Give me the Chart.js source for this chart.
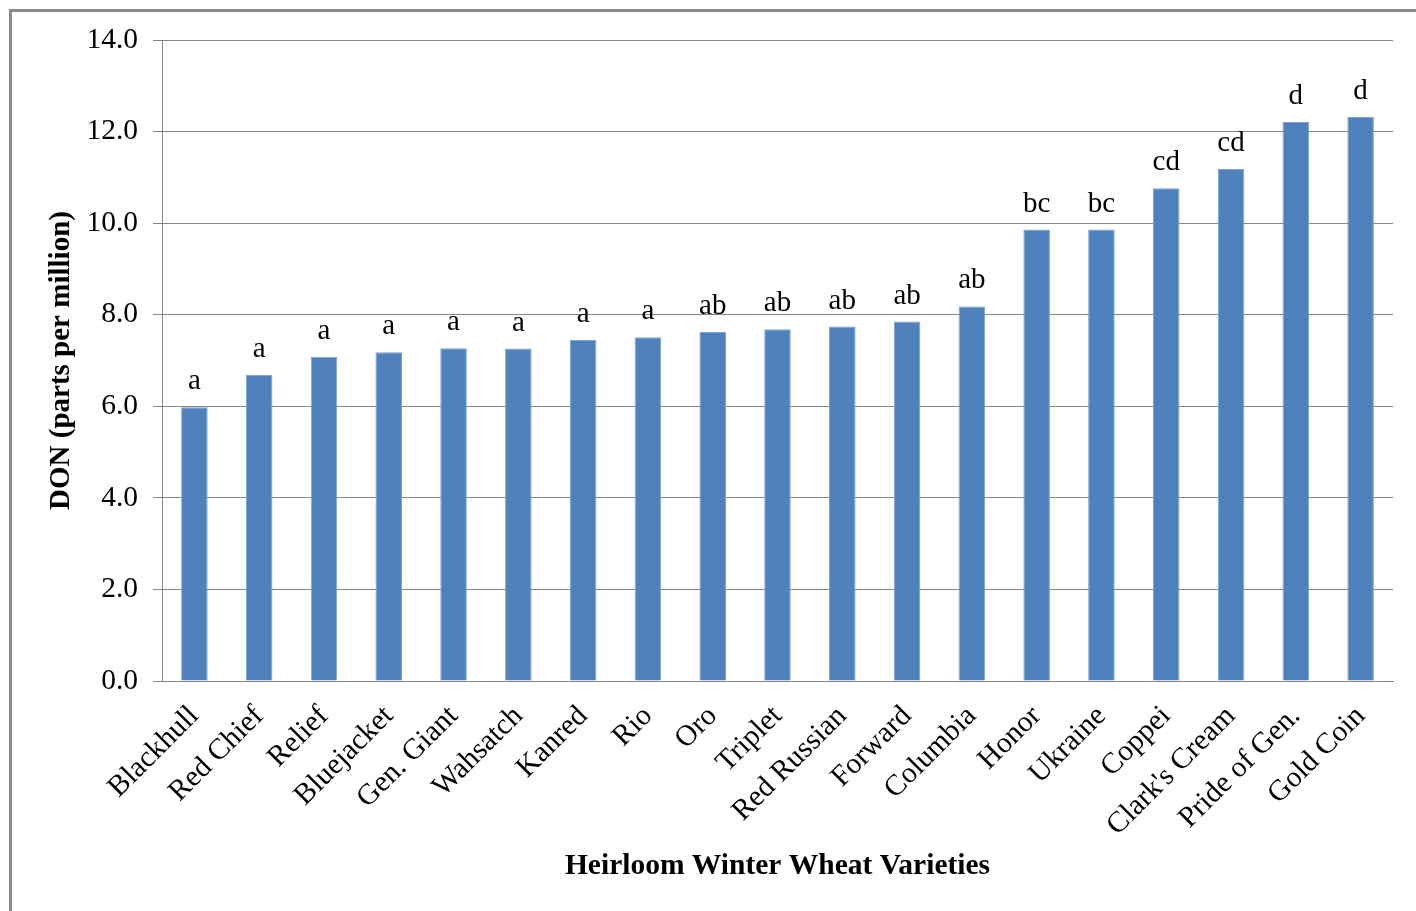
<!DOCTYPE html>
<html>
<head>
<meta charset="utf-8">
<script src="https://cdn.jsdelivr.net/npm/chart.js@4/dist/chart.umd.min.js"></script>
<style>
  html, body { margin: 0; padding: 0; background: #fff; }
  #wrap { position: relative; width: 1416px; height: 911px; overflow: hidden; }
  #frame { position: absolute; left: 9px; top: 9px; width: 1500px; height: 1000px;
           border-top: 3px solid #8a8a8a; border-left: 3px solid #8a8a8a; }
  canvas { position: absolute; left: 0; top: 0; }
</style>
</head>
<body>
<div id="wrap">
  <div id="frame"></div>
  <canvas id="c" width="1416" height="911"></canvas>
</div>
<script>
const categories = ['Blackhull', 'Red Chief', 'Relief', 'Bluejacket', 'Gen. Giant', 'Wahsatch', 'Kanred', 'Rio', 'Oro', 'Triplet', 'Red Russian', 'Forward', 'Columbia', 'Honor', 'Ukraine', 'Coppei', "Clark's Cream", 'Pride of Gen.', 'Gold Coin'];
const donValues = [5.98, 6.69, 7.08, 7.18, 7.27, 7.26, 7.45, 7.51, 7.62, 7.68, 7.74, 7.85, 8.18, 9.86, 9.86, 10.76, 11.18, 12.21, 12.32];
const groupLetters = ['a', 'a', 'a', 'a', 'a', 'a', 'a', 'a', 'ab', 'ab', 'ab', 'ab', 'ab', 'bc', 'bc', 'cd', 'cd', 'd', 'd'];
const yTickValues = [0, 2, 4, 6, 8, 10, 12, 14];

const FONT = "'Liberation Serif', 'Times New Roman', serif";
const GRID = '#868686';

const letterPlugin = {
  id: 'letters',
  afterDatasetsDraw(chart) {
    const ctx = chart.ctx;
    const meta = chart.getDatasetMeta(0);
    ctx.save();
    ctx.font = '29px ' + FONT;
    ctx.fillStyle = '#000';
    ctx.textAlign = 'center';
    ctx.textBaseline = 'alphabetic';
    meta.data.forEach((bar, i) => {
      ctx.fillText(groupLetters[i], bar.x, bar.y - 18);
    });
    ctx.restore();
  }
};

new Chart(document.getElementById('c'), {
  type: 'bar',
  data: {
    labels: categories,
    datasets: [{
      data: donValues,
      backgroundColor: '#4F81BD',
      borderColor: '#7EA2D0',
      borderWidth: 1,
      barPercentage: 0.41,
      categoryPercentage: 1.0
    }]
  },
  options: {
    responsive: false,
    animation: false,
    devicePixelRatio: 1,
    layout: { padding: { left: 40, right: 23, top: 40, bottom: 0 } },
    plugins: { legend: { display: false }, tooltip: { enabled: false } },
    scales: {
      x: {
        grid: { display: false },
        border: { display: true, color: GRID, width: 1 },
        ticks: {
          color: '#000',
          font: { family: FONT, size: 29.5 },
          minRotation: 45, maxRotation: 45,
          padding: 10,
          autoSkip: false
        },
        title: {
          display: true,
          text: 'Heirloom Winter Wheat Varieties',
          color: '#000',
          font: { family: FONT, size: 29.5, weight: 'bold' },
          padding: { top: 4, bottom: 27 }
        },
        afterFit(scale) { scale.height = 230; }
      },
      y: {
        min: 0, max: 14,
        afterBuildTicks(scale) { scale.ticks = yTickValues.map(v => ({ value: v })); },
        grid: { color: GRID, lineWidth: 1, tickLength: 9, drawTicks: true },
        border: { display: true, color: GRID, width: 1 },
        ticks: {
          color: '#000',
          font: { family: FONT, size: 29.5 },
          padding: 15,
          callback: v => Number(v).toFixed(1)
        },
        title: {
          display: true,
          text: 'DON (parts per million)',
          color: '#000',
          font: { family: FONT, size: 29, weight: 'bold' },
          padding: { top: 4, bottom: 4 }
        },
        afterFit(scale) { scale.width = 122; }
      }
    }
  },
  plugins: [letterPlugin]
});
</script>
</body>
</html>
